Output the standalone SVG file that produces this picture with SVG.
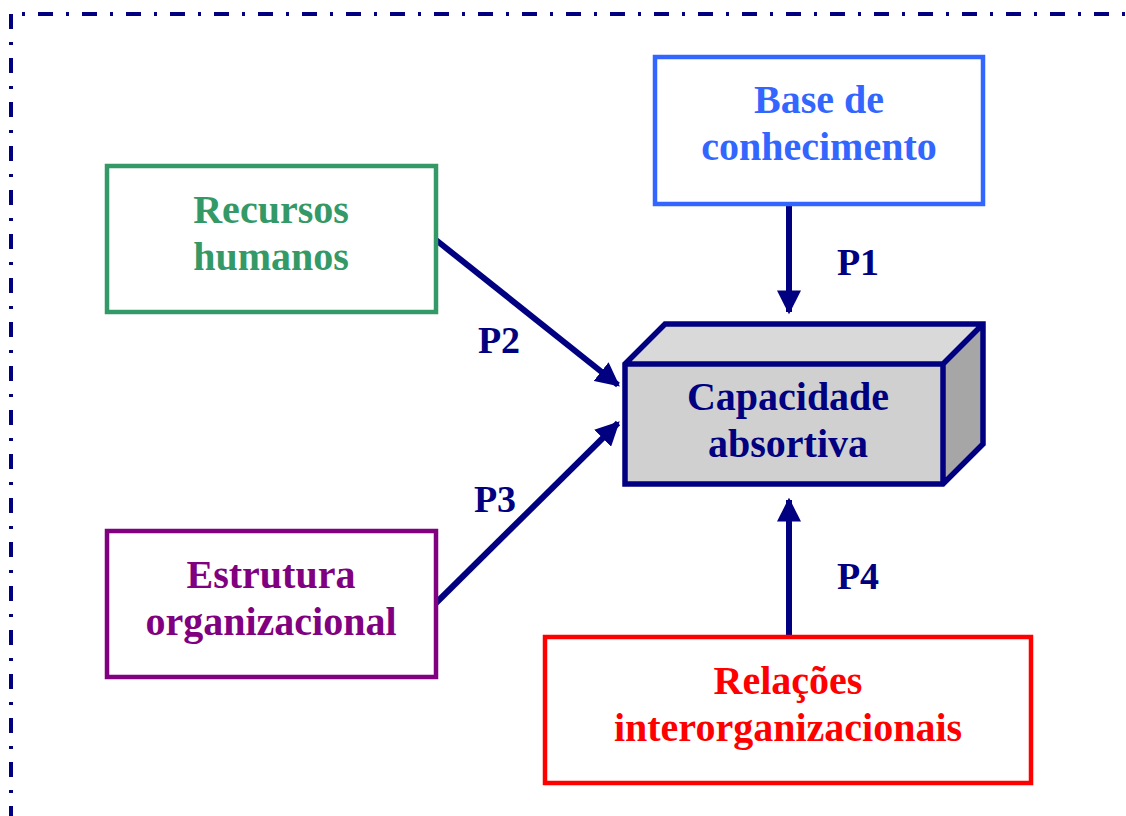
<svg xmlns="http://www.w3.org/2000/svg" width="1126" height="816" viewBox="0 0 1126 816">
<defs>
<style>
.t{font-family:"Liberation Serif","Times New Roman",serif;font-weight:bold;font-size:40px;text-anchor:middle}
.p{font-family:"Liberation Serif","Times New Roman",serif;font-weight:bold;font-size:38px;text-anchor:middle;fill:#000080}
.box{fill:#fff;stroke-width:4.5}
.c{stroke:#000080;stroke-width:6;fill:none;marker-end:url(#ah)}
</style>
<marker id="ah" viewBox="0 0 10 10" refX="9" refY="5" markerWidth="4" markerHeight="4" orient="auto" markerUnits="strokeWidth">
<path d="M0,0 L10,5 L0,10 z" fill="#000080"/>
</marker>
</defs>
<rect width="1126" height="816" fill="#fff"/>
<g id="frame" fill="none" stroke="#000080" stroke-width="4">
<path d="M11,14 H1126" stroke-dasharray="3,13,15,13" stroke-dashoffset="-11"/>
<path d="M11,14 V816" stroke-dasharray="15,13,3,13"/>
</g>
<g id="connectors">
<line class="c" x1="789" y1="204" x2="789" y2="312"/>
<line class="c" x1="436" y1="240" x2="618" y2="385"/>
<line class="c" x1="436" y1="603" x2="618" y2="423"/>
<line class="c" x1="789" y1="637" x2="789" y2="500"/>
</g>
<g id="labels">
<text class="p" x="858" y="275">P1</text>
<text class="p" x="499" y="353">P2</text>
<text class="p" x="495" y="512">P3</text>
<text class="p" x="858" y="589">P4</text>
</g>
<g id="base">
<rect class="box" x="655" y="57" width="328" height="147" stroke="#3366FF"/>
<text class="t" fill="#3366FF"><tspan x="819" y="113">Base de</tspan><tspan x="819" y="160">conhecimento</tspan></text>
</g>
<g id="recursos">
<rect class="box" x="107" y="166" width="329" height="146" stroke="#339966"/>
<text class="t" fill="#339966"><tspan x="271" y="223">Recursos</tspan><tspan x="271" y="270">humanos</tspan></text>
</g>
<g id="estrutura">
<rect class="box" x="107" y="531" width="329" height="146" stroke="#800080"/>
<text class="t" fill="#800080"><tspan x="271" y="588">Estrutura</tspan><tspan x="271" y="635">organizacional</tspan></text>
</g>
<g id="relacoes">
<rect class="box" x="545" y="637" width="486" height="146" stroke="#FF0000"/>
<text class="t" fill="#FF0000"><tspan x="788" y="694">Relações</tspan><tspan x="788" y="741">interorganizacionais</tspan></text>
</g>
<g id="capacidade">
<path d="M625,364 L665,324 L983,324 L943,364 Z" fill="#D9D9D9"/>
<path d="M943,364 L983,324 L983,444 L943,484 Z" fill="#A6A6A6"/>
<rect x="625" y="364" width="318" height="120" fill="#D0D0D0"/>
<path d="M625,364 L665,324 L983,324 L983,444 L943,484 L625,484 Z M625,364 H943 V484 M943,364 L983,324" fill="none" stroke="#000080" stroke-width="5.5" stroke-linejoin="miter"/>
<text class="t" fill="#000080"><tspan x="788" y="410">Capacidade</tspan><tspan x="788" y="457">absortiva</tspan></text>
</g>
</svg>
